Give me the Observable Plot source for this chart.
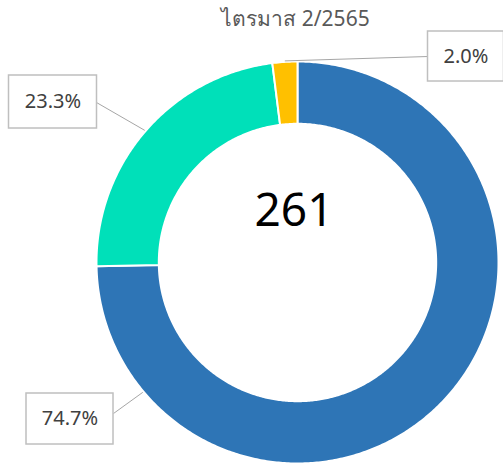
<!DOCTYPE html>
<html><head><meta charset="utf-8">
<script src="https://cdn.jsdelivr.net/npm/d3@7"></script>
<script src="https://cdn.jsdelivr.net/npm/@observablehq/plot@0.6"></script>
<style>body{margin:0;background:#fff;overflow:hidden}</style>
</head><body><div id="chart"></div>
<script>
// ---- data ----
const categories = ["ส่วนที่ 1", "ส่วนที่ 2", "ส่วนที่ 3"];
const values = [74.7, 23.3, 2.0];
const valueLabels = ["74.7%", "23.3%", "2.0%"];
const colors = ["#2E75B6", "#00E0B9", "#FFC000"];
const title = "ไตรมาส 2/2565";
const centerLabel = "261";

// ---- layout (pixels) ----
const W = 503, H = 466;
const CX = 297, CY = 262, K = 201;   // ring centre and pixels per radius unit
const INNER = 0.69;
const toX = px => (px - CX) / K, toY = py => (CY - py) / K;
// label boxes: centre, size, leader start, leader angle (deg clockwise from top; null = slice middle)
const labelLayout = [
  {bx: 69.5, by: 418.5, bw: 87, bh: 51, lx: 113, ly: 413, angle: 230},
  {bx: 52.5, by: 101.5, bw: 88, bh: 53, lx: 96, ly: 102, angle: null},
  {bx: 465.5, by: 56, bw: 76, bh: 50, lx: 427.5, ly: 56, angle: null}
];

// ---- derived geometry ----
const total = d3.sum(values);
let acc = 0;
const slices = values.map((v, i) => {
  const a0 = acc / total * 2 * Math.PI; acc += v;
  const a1 = acc / total * 2 * Math.PI;
  return {category: categories[i], value: v, a0, a1};
});
const poly = [];
for (const s of slices) {
  const n = Math.max(4, Math.ceil((s.a1 - s.a0) / 0.01));
  for (let k = 0; k <= n; k++) { const a = s.a0 + (s.a1 - s.a0) * k / n; poly.push({category: s.category, x: Math.sin(a), y: Math.cos(a)}); }
  for (let k = n; k >= 0; k--) { const a = s.a0 + (s.a1 - s.a0) * k / n; poly.push({category: s.category, x: INNER * Math.sin(a), y: INNER * Math.cos(a)}); }
}
const labels = slices.map((s, i) => {
  const L = labelLayout[i];
  const a = L.angle == null ? (s.a0 + s.a1) / 2 : L.angle * Math.PI / 180;
  return {
    text: valueLabels[i],
    x: toX(L.bx), y: toY(L.by),
    x1: toX(L.bx - L.bw / 2), x2: toX(L.bx + L.bw / 2),
    y1: toY(L.by + L.bh / 2), y2: toY(L.by - L.bh / 2),
    lx1: toX(L.lx), ly1: toY(L.ly), lx2: 1.005 * Math.sin(a), ly2: 1.005 * Math.cos(a)
  };
});

const chart = Plot.plot({
  width: W, height: H,
  margin: 0,
  x: {domain: [toX(0), toX(W)], axis: null},
  y: {domain: [toY(H), toY(0)], axis: null},
  color: {domain: categories, range: colors},
  style: {fontFamily: "'Noto Sans', 'DejaVu Sans', sans-serif", background: "#fff"},
  marks: [
    Plot.line(poly, {x: "x", y: "y", z: "category", fill: "category", stroke: "#fff", strokeWidth: 2, curve: "linear-closed"}),
    Plot.link(labels, {x1: "lx1", y1: "ly1", x2: "lx2", y2: "ly2", stroke: "#a6a6a6", strokeWidth: 1}),
    Plot.rect(labels, {x1: "x1", x2: "x2", y1: "y1", y2: "y2", fill: "#fff", stroke: "#bfbfbf", strokeWidth: 1.5}),
    Plot.text(labels, {x: "x", y: "y", text: "text", fontSize: 20, fill: "#404040", lineAnchor: "middle"}),
    Plot.text([centerLabel], {x: toX(293.5), y: toY(211), text: d => d, fontSize: 46, fill: "#000", lineAnchor: "middle"}),
    Plot.text([title], {x: toX(295), y: toY(19), text: d => d, fontSize: 21, fill: "#595959", lineAnchor: "middle"})
  ]
});
document.getElementById("chart").append(chart);
</script>
</body></html>
